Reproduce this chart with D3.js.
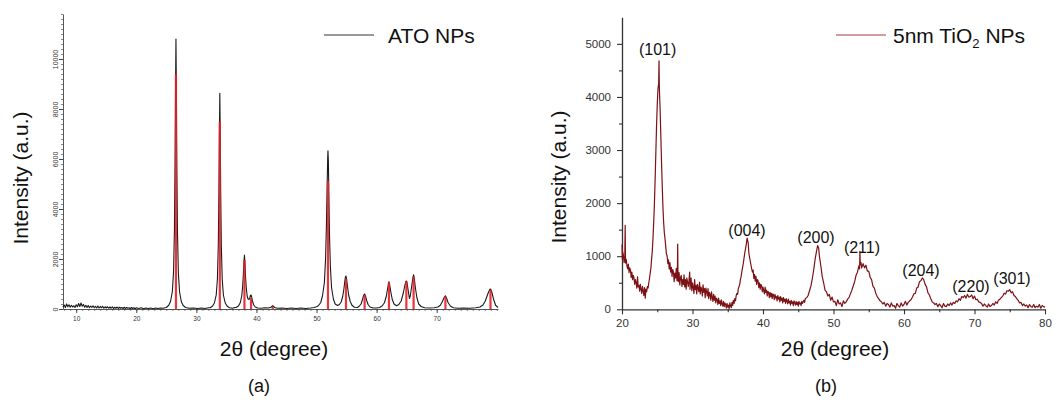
<!DOCTYPE html>
<html>
<head>
<meta charset="utf-8">
<script src="https://cdn.jsdelivr.net/npm/d3@7"></script>
<style>
  html, body { margin: 0; padding: 0; background: #fff; }
  svg { display: block; font-family: "Liberation Sans", Arial, sans-serif; }
</style>
</head>
<body>
<svg id="chart" width="1056" height="401"></svg>
<script>
// ---------- (a) ATO nanoparticles: measured pattern [2θ, intensity] ----------
const atoPattern = [
  [7.8,80],[8.0,160],[8.2,60],[8.4,200],[8.6,90],[8.8,170],[9.0,70],[9.2,150],[9.4,80],[9.6,130],
  [9.8,60],[10.0,170],[10.2,90],[10.4,220],[10.6,100],[10.8,240],[11.0,110],[11.2,180],[11.4,70],[11.6,150],
  [11.8,60],[12.0,140],[12.2,50],[12.4,120],[12.6,60],[12.8,130],[13.0,50],[13.2,110],[13.4,40],[13.6,120],
  [13.8,40],[14.0,100],[14.2,50],[14.4,110],[14.6,30],[14.8,90],[15.0,40],[15.2,90],[15.4,30],[15.6,80],
  [15.8,30],[16.0,90],[16.2,20],[16.4,70],[16.6,30],[16.8,80],[17.0,20],[17.2,70],[17.4,30],[17.6,60],
  [17.8,20],[18.0,70],[18.2,20],[18.4,60],[18.6,30],[18.8,50],[19.0,10],[19.2,60],[19.4,20],[19.6,50],
  [19.8,10],[20.0,50],[20.4,20],[20.8,50],[21.2,10],[21.6,40],[22.0,20],[22.4,40],[22.8,10],[23.2,40],
  [23.6,20],[24.0,40],[24.4,30],[24.8,50],
  [25.0,60],[25.4,150],[25.7,300],[26.0,700],[26.2,1500],[26.35,3200],[26.45,5800],[26.53,8800],[26.6,10800],
  [26.67,8700],[26.75,5600],[26.85,3100],[27.0,1450],[27.2,680],[27.5,290],[27.8,140],[28.2,60],[28.8,30],
  [29.5,40],[30.2,20],[30.8,40],[31.4,20],[32.0,50],
  [32.3,50],[32.7,120],[33.0,240],[33.3,560],[33.5,1200],[33.65,2590],[33.75,4660],[33.83,6990],[33.9,8630],
  [33.97,6950],[34.05,4600],[34.15,2550],[34.3,1180],[34.5,550],[34.8,240],[35.1,120],[35.5,50],[36.0,30],
  [36.4,60],[36.6,60],[37.0,120],[37.3,250],[37.55,520],[37.7,900],[37.82,1400],[37.92,1900],[38.0,2160],
  [38.08,1850],[38.18,1300],[38.3,850],[38.45,520],[38.6,400],[38.75,380],[38.9,450],[39.0,540],[39.1,560],
  [39.2,480],[39.35,300],[39.55,160],[39.8,80],[40.2,40],[40.8,30],[41.4,50],[42.0,40],[42.4,70],[42.6,110],
  [42.7,130],[42.8,110],[43.0,60],[43.5,30],[44.2,40],[45.0,20],[45.8,40],[46.6,20],[47.4,40],[48.2,20],
  [49.0,40],[49.6,60],[50.0,90],
  [50.3,130],[50.7,260],[51.0,540],[51.3,1050],[51.5,2000],[51.65,3400],[51.77,5000],[51.85,6000],[51.9,6330],
  [51.97,5900],[52.05,4600],[52.15,3000],[52.3,1700],[52.5,850],[52.8,400],[53.1,200],[53.5,140],[53.8,180],
  [54.1,280],[54.35,500],[54.55,800],[54.7,1100],[54.8,1280],[54.9,1320],[55.0,1200],[55.15,900],[55.35,550],
  [55.6,300],[55.9,150],[56.3,70],[56.8,60],[57.1,110],[57.4,200],[57.65,380],[57.85,560],[58.0,600],
  [58.15,520],[58.35,330],[58.6,170],[58.9,80],[59.4,40],[60.0,40],[60.5,60],[60.9,120],[61.3,250],
  [61.6,500],[61.85,850],[62.0,1050],[62.05,1090],[62.15,1000],[62.35,700],[62.6,380],[62.9,200],[63.3,130],
  [63.7,180],[64.1,330],[64.45,650],[64.7,950],[64.9,1110],[64.95,1120],[65.05,1060],[65.25,750],[65.45,420],
  [65.6,520],[65.8,850],[66.0,1200],[66.15,1370],[66.25,1250],[66.45,850],[66.7,450],[67.0,200],[67.4,100],
  [68.0,50],[68.8,40],[69.6,50],[70.2,80],[70.6,150],[70.95,300],[71.25,470],[71.45,530],[71.65,430],
  [71.9,250],[72.3,110],[72.8,50],[73.5,30],[74.5,40],[75.5,30],[76.5,50],[77.2,80],[77.7,160],[78.1,330],
  [78.5,600],[78.8,770],[78.95,800],[79.15,700],[79.45,400],[79.8,150],[80.2,60]
];

// Reference reflections (stick pattern) for SnO2
const refPositions = [26.6, 33.9, 38.0, 39.1, 42.7, 51.9, 54.9, 58.0, 62.05, 64.95, 66.15, 71.45, 78.95];
const refHeights   = [9400, 7490, 1960, 440, 100, 5120, 1200, 560, 1050, 1100, 1300, 500, 760];

const atoXTicks = [10, 20, 30, 40, 50, 60, 70];
const atoYTicks = [0, 2000, 4000, 6000, 8000, 10000];

// ---------- (b) 5 nm TiO2 nanoparticles: measured pattern [2θ, intensity] ----------
const tioPattern = [
  [20.0,1220],[20.05,950],[20.1,1080],[20.2,1010],[20.3,880],[20.4,1000],[20.45,1580],[20.5,870],[20.6,940],[20.7,820],
  [20.8,760],[20.9,850],[21.0,690],[21.1,780],[21.2,740],[21.3,600],[21.4,700],[21.5,560],[21.6,640],[21.7,590],
  [21.8,470],[21.9,560],[22.0,500],[22.1,400],[22.2,610],[22.3,420],[22.4,450],[22.5,340],[22.6,470],[22.7,380],
  [22.8,300],[22.9,430],[23.0,350],[23.1,260],[23.2,410],[23.3,210],[23.4,380],[23.5,330],[23.6,430],[23.7,400],
  [23.8,500],[23.9,580],[24.0,680],[24.1,780],[24.2,950],[24.3,1100],[24.4,1350],[24.5,1650],[24.6,2000],[24.7,2450],
  [24.8,2950],[24.9,3450],[25.0,3850],[25.1,4150],[25.2,4250],[25.25,4680],[25.3,4150],[25.4,3800],[25.5,3300],[25.6,2800],
  [25.7,2350],[25.8,1950],[25.9,1650],[26.0,1450],[26.1,1330],[26.2,1190],[26.3,1040],[26.4,1010],[26.5,860],[26.6,930],
  [26.7,760],[26.8,880],[26.9,700],[27.0,790],[27.1,620],[27.2,750],[27.3,700],[27.4,520],[27.5,680],[27.6,590],
  [27.7,770],[27.8,540],[27.85,620],[27.9,1230],[27.95,560],[28.0,520],[28.1,690],[28.2,460],[28.3,600],[28.4,640],
  [28.5,430],[28.6,560],[28.7,470],[28.8,650],[28.9,420],[29.0,560],[29.1,380],[29.2,590],[29.3,510],[29.4,430],
  [29.5,540],[29.6,700],[29.65,380],[29.7,470],[29.8,590],[29.9,350],[30.0,500],[30.1,420],[30.2,300],[30.3,560],
  [30.4,370],[30.5,450],[30.6,290],[30.7,470],[30.8,400],[30.9,330],[31.0,510],[31.1,290],[31.2,420],[31.3,380],
  [31.4,250],[31.5,460],[31.6,320],[31.7,390],[31.8,220],[31.9,400],[32.0,330],[32.1,250],[32.2,390],[32.3,200],
  [32.4,320],[32.5,280],[32.6,170],[32.7,330],[32.8,230],[32.9,150],[33.0,280],[33.1,170],[33.2,250],[33.3,120],
  [33.4,210],[33.5,180],[33.6,90],[33.7,210],[33.8,110],[33.9,160],[34.0,70],[34.1,180],[34.2,100],[34.3,60],
  [34.4,150],[34.5,50],[34.6,120],[34.7,90],[34.8,20],[34.9,110],[35.0,40],[35.1,80],[35.2,10],[35.3,120],
  [35.4,60],[35.5,30],[35.6,130],[35.7,70],[35.8,170],[35.9,110],[36.0,200],[36.1,160],[36.2,260],[36.3,300],
  [36.4,280],[36.5,390],[36.6,430],[36.7,470],[36.8,560],[36.9,620],[37.0,710],[37.2,860],[37.4,1050],[37.6,1200],
  [37.75,1340],[37.9,1250],[38.0,1050],[38.2,900],[38.4,760],[38.5,700],[38.6,740],[38.7,580],[38.8,660],[38.9,530],
  [39.0,620],[39.1,470],[39.2,560],[39.3,540],[39.4,410],[39.5,500],[39.6,380],[39.7,470],[39.8,440],[39.9,330],
  [40.0,420],[40.1,350],[40.2,290],[40.3,420],[40.4,320],[40.5,360],[40.6,250],[40.7,340],[40.8,310],[40.9,220],
  [41.0,320],[41.1,240],[41.2,300],[41.3,200],[41.4,290],[41.5,270],[41.6,180],[41.7,280],[41.8,210],[41.9,240],
  [42.0,160],[42.1,260],[42.2,190],[42.3,230],[42.4,140],[42.5,240],[42.6,170],[42.7,210],[42.8,120],[42.9,220],
  [43.0,150],[43.1,190],[43.2,110],[43.3,200],[43.4,160],[43.5,100],[43.6,190],[43.7,120],[43.8,150],[43.9,80],
  [44.0,170],[44.1,110],[44.2,140],[44.3,70],[44.4,160],[44.5,120],[44.6,80],[44.7,150],[44.8,90],[44.9,130],
  [45.0,60],[45.1,150],[45.2,100],[45.3,120],[45.4,70],[45.5,150],[45.6,110],[45.7,140],[45.8,170],[45.9,130],
  [46.0,200],[46.2,220],[46.4,260],[46.6,350],[46.8,440],[47.0,580],[47.2,750],[47.4,950],[47.6,1100],[47.75,1200],
  [47.9,1150],[48.0,1000],[48.2,820],[48.4,620],[48.6,500],[48.8,360],[49.0,330],[49.2,250],[49.4,280],[49.6,170],
  [49.8,230],[50.0,140],[50.2,150],[50.4,70],[50.6,180],[50.8,100],[51.0,120],[51.2,50],[51.4,160],[51.6,110],
  [51.8,140],[52.0,190],[52.2,220],[52.4,290],[52.6,360],[52.8,440],[53.0,520],[53.2,640],[53.4,700],[53.6,820],
  [53.7,760],[53.75,1090],[53.8,840],[53.9,880],[54.0,780],[54.2,860],[54.4,780],[54.6,830],[54.8,720],[55.0,720],
  [55.2,600],[55.4,560],[55.6,430],[55.8,400],[56.0,300],[56.2,240],[56.4,200],[56.6,160],[56.8,140],[57.0,100],
  [57.2,130],[57.4,60],[57.6,110],[57.8,90],[58.0,40],[58.2,120],[58.4,60],[58.6,70],[58.8,20],[59.0,110],
  [59.2,70],[59.4,40],[59.6,120],[59.8,60],[60.0,90],[60.2,150],[60.4,80],[60.6,130],[60.8,160],[61.0,180],
  [61.2,230],[61.4,290],[61.6,300],[61.8,400],[62.0,420],[62.2,520],[62.4,540],[62.6,590],[62.8,560],[63.0,470],
  [63.2,420],[63.4,310],[63.6,270],[63.8,200],[64.0,140],[64.2,120],[64.4,90],[64.6,110],[64.8,50],[65.0,100],
  [65.2,70],[65.4,30],[65.6,110],[65.8,60],[66.0,50],[66.2,100],[66.4,70],[66.6,120],[66.8,80],[67.0,130],
  [67.2,110],[67.4,160],[67.6,140],[67.8,200],[68.0,170],[68.2,240],[68.4,220],[68.6,260],[68.8,210],[69.0,280],
  [69.2,230],[69.4,240],[69.6,270],[69.8,200],[70.0,250],[70.2,180],[70.4,190],[70.6,140],[70.8,130],[71.0,110],
  [71.2,60],[71.4,100],[71.6,70],[71.8,40],[72.0,100],[72.2,50],[72.4,70],[72.6,110],[72.8,80],[73.0,140],
  [73.2,110],[73.4,170],[73.6,190],[73.8,220],[74.0,250],[74.2,300],[74.4,290],[74.6,350],[74.8,340],[75.0,370],
  [75.2,310],[75.4,330],[75.6,260],[75.8,240],[76.0,200],[76.2,170],[76.4,120],[76.6,130],[76.8,70],[77.0,100],
  [77.2,60],[77.4,80],[77.6,30],[77.8,90],[78.0,50],[78.2,40],[78.4,90],[78.6,30],[78.8,60],[79.0,40],
  [79.2,90],[79.4,20],[79.6,70],[79.8,50],[80.0,40]
];

// Miller indices of the anatase reflections and where each tag sits (2θ, intensity)
const hklLabels = ["(101)", "(004)", "(200)", "(211)", "(204)", "(220)", "(301)"];
const hklTheta  = [25.05, 37.73, 47.52, 54.04, 62.41, 69.5, 75.32];
const hklLevel  = [4790, 1380, 1250, 1060, 630, 330, 480];

const tioXTicks = [20, 30, 40, 50, 60, 70, 80];
const tioYTicks = [0, 1000, 2000, 3000, 4000, 5000];

// ---------- drawing ----------
const svg = d3.select("#chart");
const FONT = '"Liberation Sans", Arial, sans-serif';
const plain = d3.format("d");

// ===== panel (a) =====
const xA = d3.scaleLinear().domain([7.8, 80.2]).range([63, 498]);
const yA = d3.scaleLinear().domain([0, 11800]).range([309, 14]);
const gA = svg.append("g");

// minor ticks
gA.append("g").attr("transform", "translate(0,309)")
  .call(d3.axisBottom(xA).tickValues(d3.range(8, 81, 1)).tickSize(2).tickFormat(""))
  .call(g => g.select(".domain").remove())
  .call(g => g.selectAll("line").attr("stroke", "#555").attr("stroke-width", 0.7));
gA.append("g").attr("transform", "translate(63,0)")
  .call(d3.axisLeft(yA).tickValues(d3.range(0, 11801, 200)).tickSize(2).tickFormat(""))
  .call(g => g.select(".domain").remove())
  .call(g => g.selectAll("line").attr("stroke", "#555").attr("stroke-width", 0.7));

// major axes
gA.append("g").attr("transform", "translate(0,309)")
  .call(d3.axisBottom(xA).tickValues(atoXTicks).tickFormat(plain).tickSize(4).tickPadding(3).tickSizeOuter(0))
  .call(g => g.select(".domain").attr("stroke", "#444").attr("stroke-width", 0.9))
  .call(g => g.selectAll("line").attr("stroke", "#444"))
  .call(g => g.selectAll("text").attr("font-size", 6.5).attr("fill", "#333").attr("font-family", FONT));
gA.append("g").attr("transform", "translate(63,0)")
  .call(d3.axisLeft(yA).tickValues(atoYTicks).tickFormat(plain).tickSize(4).tickSizeOuter(0))
  .call(g => g.select(".domain").attr("stroke", "#444").attr("stroke-width", 0.9))
  .call(g => g.selectAll("line").attr("stroke", "#444"))
  .call(g => g.selectAll("text")
      .attr("transform", "rotate(-90)")
      .attr("x", 0).attr("y", -5).attr("dy", 0)
      .attr("text-anchor", "middle")
      .attr("font-size", 7).attr("fill", "#333").attr("font-family", FONT));

// measured curve
gA.append("path")
  .datum(atoPattern)
  .attr("fill", "none")
  .attr("stroke", "#1a1a1a")
  .attr("stroke-width", 1.1)
  .attr("stroke-linejoin", "round")
  .attr("d", d3.line().x(d => xA(d[0])).y(d => yA(d[1])));

// reference sticks
gA.selectAll("line.stick")
  .data(refPositions.map((p, i) => [p, refHeights[i]]))
  .join("line")
  .attr("class", "stick")
  .attr("x1", d => xA(d[0])).attr("x2", d => xA(d[0]))
  .attr("y1", yA(0)).attr("y2", d => yA(d[1]))
  .attr("stroke", "#e8202a")
  .attr("stroke-width", 2.2)
  .attr("opacity", 0.9);

// legend
gA.append("line").attr("x1", 324).attr("x2", 374).attr("y1", 35).attr("y2", 35)
  .attr("stroke", "#333").attr("stroke-width", 1);
gA.append("text").attr("x", 388).attr("y", 43).attr("font-size", 21).attr("fill", "#111")
  .text("ATO NPs");

// axis titles
gA.append("text").attr("transform", "translate(28,178) rotate(-90)")
  .attr("text-anchor", "middle").attr("font-size", 21).attr("fill", "#111")
  .text("Intensity (a.u.)");
gA.append("text").attr("x", 274).attr("y", 356)
  .attr("text-anchor", "middle").attr("font-size", 21).attr("fill", "#111")
  .text("2θ (degree)");
gA.append("text").attr("x", 259).attr("y", 392)
  .attr("text-anchor", "middle").attr("font-size", 18).attr("fill", "#111")
  .text("(a)");

// ===== panel (b) =====
const xB = d3.scaleLinear().domain([20, 80]).range([622, 1045]);
const yB = d3.scaleLinear().domain([0, 5500]).range([309.3, 17.3]);
const gB = svg.append("g");
const wine = "#7c1216";

gB.append("g").attr("transform", "translate(0,309.3)")
  .call(d3.axisBottom(xB).tickValues(d3.range(25, 80, 10)).tickSize(3).tickFormat(""))
  .call(g => g.select(".domain").remove())
  .call(g => g.selectAll("line").attr("stroke", "#333").attr("stroke-width", 1.1));
gB.append("g").attr("transform", "translate(622,0)")
  .call(d3.axisLeft(yB).tickValues(d3.range(500, 5500, 1000)).tickSize(3).tickFormat(""))
  .call(g => g.select(".domain").remove())
  .call(g => g.selectAll("line").attr("stroke", "#333").attr("stroke-width", 1.1));

gB.append("g").attr("transform", "translate(0,309.3)")
  .call(d3.axisBottom(xB).tickValues(tioXTicks).tickFormat(plain).tickSize(5).tickPadding(5).tickSizeOuter(0))
  .call(g => g.select(".domain").attr("stroke", "#333").attr("stroke-width", 1.3))
  .call(g => g.selectAll("line").attr("stroke", "#333").attr("stroke-width", 1.1))
  .call(g => g.selectAll("text").attr("font-size", 11.5).attr("fill", "#333").attr("font-family", FONT));
gB.append("g").attr("transform", "translate(622,0)")
  .call(d3.axisLeft(yB).tickValues(tioYTicks).tickFormat(plain).tickSize(5).tickPadding(6).tickSizeOuter(0))
  .call(g => g.select(".domain").attr("stroke", "#333").attr("stroke-width", 1.3))
  .call(g => g.selectAll("line").attr("stroke", "#333").attr("stroke-width", 1.1))
  .call(g => g.selectAll("text").attr("font-size", 11.5).attr("fill", "#333").attr("font-family", FONT));

gB.append("path")
  .datum(tioPattern)
  .attr("fill", "none")
  .attr("stroke", wine)
  .attr("stroke-width", 1.2)
  .attr("stroke-linejoin", "round")
  .attr("d", d3.line().x(d => xB(d[0])).y(d => yB(d[1])));

// reflection tags
gB.selectAll("text.hkl")
  .data(hklLabels)
  .join("text")
  .attr("class", "hkl")
  .attr("x", (d, i) => xB(hklTheta[i]))
  .attr("y", (d, i) => yB(hklLevel[i]))
  .attr("text-anchor", "middle")
  .attr("font-size", 16)
  .attr("fill", "#111")
  .text(d => d);

// legend
gB.append("line").attr("x1", 836).attr("x2", 886).attr("y1", 35).attr("y2", 35)
  .attr("stroke", "#a33a3a").attr("stroke-width", 1);
const leg = gB.append("text").attr("x", 893).attr("y", 43).attr("font-size", 21).attr("fill", "#111");
leg.append("tspan").text("5nm TiO");
leg.append("tspan").attr("font-size", 13).attr("dy", 5).text("2");
leg.append("tspan").attr("dy", -5).text(" NPs");

// axis titles
gB.append("text").attr("transform", "translate(566,177) rotate(-90)")
  .attr("text-anchor", "middle").attr("font-size", 21).attr("fill", "#111")
  .text("Intensity (a.u.)");
gB.append("text").attr("x", 835).attr("y", 356)
  .attr("text-anchor", "middle").attr("font-size", 21).attr("fill", "#111")
  .text("2θ (degree)");
gB.append("text").attr("x", 826).attr("y", 392)
  .attr("text-anchor", "middle").attr("font-size", 18).attr("fill", "#111")
  .text("(b)");
</script>
</body>
</html>
